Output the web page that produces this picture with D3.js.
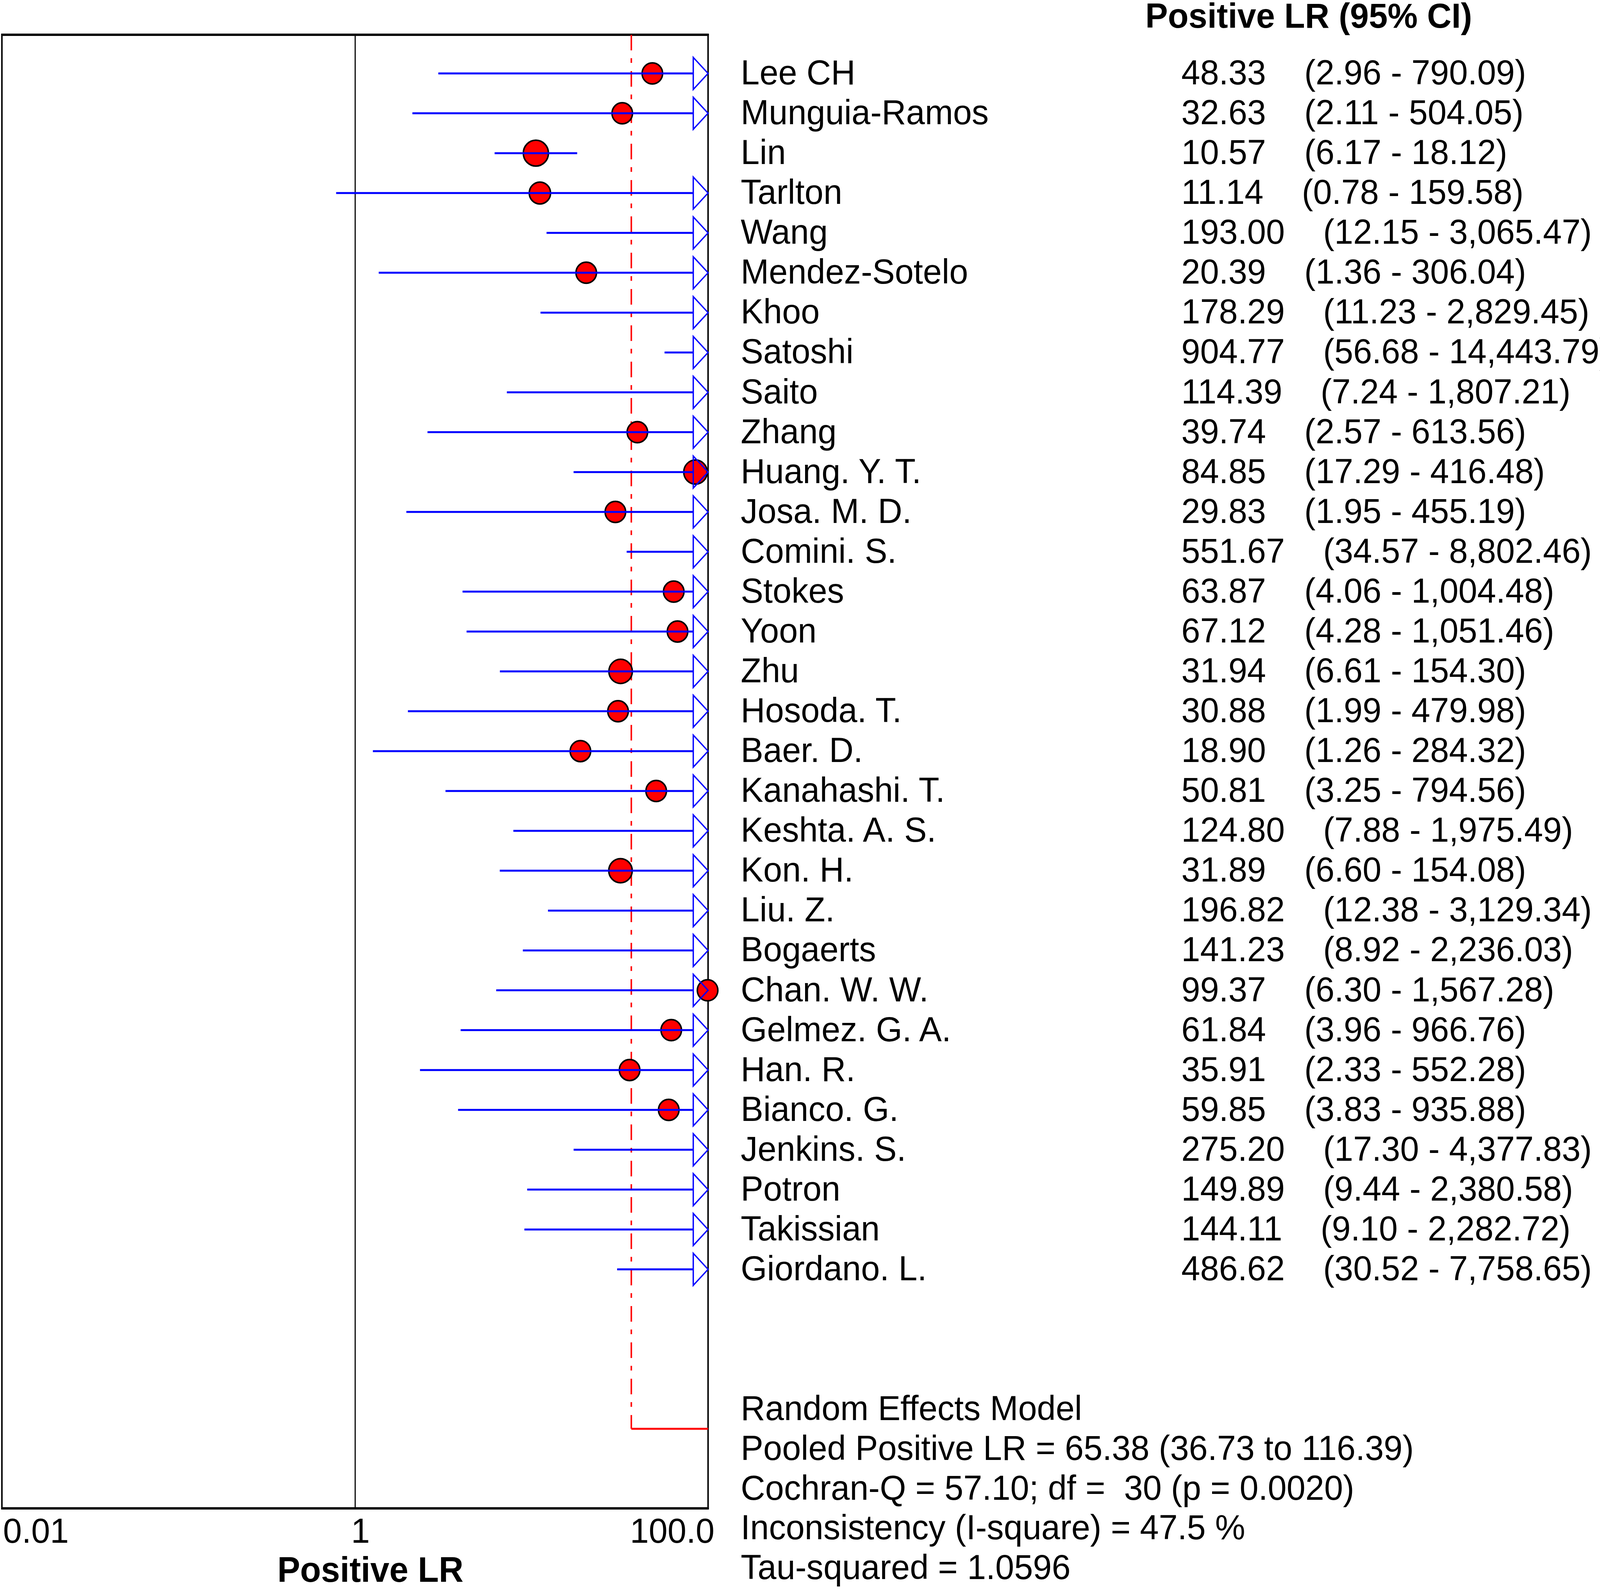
<!DOCTYPE html>
<html>
<head>
<meta charset="utf-8">
<script src="https://cdn.jsdelivr.net/npm/d3@7"></script>
<style>
	html, body { margin: 0; padding: 0; background: #fff; overflow: hidden; }
	svg { display: block; }
	text { font-family: "Liberation Sans", Arial, sans-serif; }
</style>
</head>
<body>
<div id="chart-area"></div>
<script>
// Estudos
var studies = ["Lee CH", "Munguia-Ramos", "Lin", "Tarlton", "Wang", "Mendez-Sotelo", "Khoo", "Satoshi",
	"Saito", "Zhang", "Huang. Y. T.", "Josa. M. D.", "Comini. S.", "Stokes", "Yoon", "Zhu", "Hosoda. T.",
	"Baer. D.", "Kanahashi. T.", "Keshta. A. S.", "Kon. H.", "Liu. Z.", "Bogaerts", "Chan. W. W.",
	"Gelmez. G. A.", "Han. R.", "Bianco. G.", "Jenkins. S.", "Potron", "Takissian", "Giordano. L."];
var estimates = [48.33, 32.63, 10.57, 11.14, 193.00, 20.39, 178.29, 904.77, 114.39, 39.74, 84.85, 29.83,
	551.67, 63.87, 67.12, 31.94, 30.88, 18.90, 50.81, 124.80, 31.89, 196.82, 141.23, 99.37, 61.84, 35.91,
	59.85, 275.20, 149.89, 144.11, 486.62];
var lowerCI = [2.96, 2.11, 6.17, 0.78, 12.15, 1.36, 11.23, 56.68, 7.24, 2.57, 17.29, 1.95, 34.57, 4.06,
	4.28, 6.61, 1.99, 1.26, 3.25, 7.88, 6.60, 12.38, 8.92, 6.30, 3.96, 2.33, 3.83, 17.30, 9.44, 9.10, 30.52];
var upperCI = [790.09, 504.05, 18.12, 159.58, 3065.47, 306.04, 2829.45, 14443.79, 1807.21, 613.56, 416.48,
	455.19, 8802.46, 1004.48, 1051.46, 154.30, 479.98, 284.32, 794.56, 1975.49, 154.08, 3129.34, 2236.03,
	1567.28, 966.76, 552.28, 935.88, 4377.83, 2380.58, 2282.72, 7758.65];
// peso relativo (tamanho do ponto)
var weights = [2.6, 2.6, 3.9, 2.8, 2.6, 2.6, 2.6, 2.6, 2.6, 2.6, 3.4, 2.6, 2.6, 2.6, 2.6, 3.4, 2.6,
	2.6, 2.6, 2.6, 3.4, 2.6, 2.6, 2.6, 2.6, 2.6, 2.6, 2.6, 2.6, 2.6, 2.6];

var axisTicks = [0.01, 1, 100];
var axisTickLabels = ["0.01", "1", "100.0"];

var pooled = [65.38, 36.73, 116.39];
var cochranQ = 57.10, df = 30, pValue = 0.0020, iSquare = 47.5, tauSquared = 1.0596;

var data = studies.map(function(s, i){
	return {name: s, est: estimates[i], lo: lowerCI[i], hi: upperCI[i], w: weights[i]};
});

var W = 4212, H = 4071;
var svg = d3.select("#chart-area")
			.append("svg")
			.attr("viewBox", "0 0 " + W + " " + H)
			.attr("preserveAspectRatio", "none")
			.style("width", "100vw")
			.style("height", "100vh");

var x = d3.scaleLog()
		.domain([0.01, 100])
		.range([6, 1864]);

var y = d3.scaleLinear()
		.domain([0, 30])
		.range([188, 3250]);

var r = d3.scaleSqrt()
		.domain([0, 2.6])
		.range([0, 27]);

var plotTop = 89, plotBottom = 3862;
var f2 = d3.format(".2f"), fc = d3.format(",.2f");

// caixa do grafico
svg.append("rect")
	.attr("x", x(0.01) - 1)
	.attr("y", plotTop)
	.attr("width", x(100) - x(0.01) + 1)
	.attr("height", plotBottom - plotTop)
	.attr("fill", "none")
	.attr("stroke", "black")
	.attr("stroke-width", 4);

svg.selectAll(".hline")
	.data([plotTop, plotBottom])
	.enter()
	.append("line")
	.attr("class", "hline")
	.attr("x1", x(0.01) - 3)
	.attr("x2", x(100) + 2)
	.attr("y1", function(d){ return d; })
	.attr("y2", function(d){ return d; })
	.attr("stroke", "black")
	.attr("stroke-width", 6);

// linha vertical em 1
svg.append("line")
	.attr("x1", x(1)).attr("x2", x(1))
	.attr("y1", plotTop).attr("y2", plotBottom)
	.attr("stroke", "black")
	.attr("stroke-width", 3);

// linha do pooled
var pooledRow = y(34);
svg.append("line")
	.attr("x1", x(pooled[1])).attr("x2", x(pooled[1]))
	.attr("y1", plotTop).attr("y2", pooledRow)
	.attr("stroke", "red")
	.attr("stroke-width", 4)
	.attr("stroke-dasharray", "40,20,12,21");

svg.append("line")
	.attr("x1", x(pooled[1]))
	.attr("x2", x(Math.min(pooled[2], 100)))
	.attr("y1", pooledRow).attr("y2", pooledRow)
	.attr("stroke", "red")
	.attr("stroke-width", 5);

var arrowBase = x(100) - 39;

// pontos
svg.selectAll("circle")
	.data(data.filter(function(d){ return d.est <= 100; }))
	.enter()
	.append("circle")
	.attr("cx", function(d){ return x(d.est); })
	.attr("cy", function(d){ return y(studies.indexOf(d.name)); })
	.attr("r", function(d){ return r(d.w); })
	.attr("fill", "red")
	.attr("stroke", "black")
	.attr("stroke-width", 4);

// intervalos
svg.selectAll(".ci")
	.data(data)
	.enter()
	.append("line")
	.attr("class", "ci")
	.attr("x1", function(d){ return x(Math.max(d.lo, 0.01)); })
	.attr("x2", function(d){ return d.hi > 100 ? arrowBase : x(d.hi); })
	.attr("y1", function(d, i){ return y(i); })
	.attr("y2", function(d, i){ return y(i); })
	.attr("stroke", "blue")
	.attr("stroke-width", 5);

svg.selectAll(".arrow")
	.data(data.filter(function(d){ return d.hi > 100; }))
	.enter()
	.append("path")
	.attr("class", "arrow")
	.attr("d", function(d){
		var yy = y(studies.indexOf(d.name));
		return "M" + arrowBase + "," + (yy - 41) + "L" + x(100) + "," + yy + "L" + arrowBase + "," + (yy + 41) + "Z";
	})
	.attr("fill", "none")
	.attr("stroke", "blue")
	.attr("stroke-width", 3.5);

// textos
svg.append("text")
	.attr("x", 3015)
	.attr("y", 71)
	.attr("font-size", 89)
	.attr("font-weight", "bold")
	.text("Positive LR (95% CI)");

svg.selectAll(".name")
	.data(data)
	.enter()
	.append("text")
	.attr("class", "name")
	.attr("x", 1950)
	.attr("y", function(d, i){ return y(i) + 28; })
	.attr("font-size", 89)
	.text(function(d){ return d.name; });

svg.selectAll(".est")
	.data(data)
	.enter()
	.append("text")
	.attr("class", "est")
	.attr("x", 3110)
	.attr("y", function(d, i){ return y(i) + 28; })
	.attr("font-size", 89)
	.text(function(d){ return f2(d.est); })
	.each(function(d){ d.estW = this.getComputedTextLength(); });

svg.selectAll(".ci-text")
	.data(data)
	.enter()
	.append("text")
	.attr("class", "ci-text")
	.attr("x", function(d){ return 3110 + d.estW + 101; })
	.attr("y", function(d, i){ return y(i) + 28; })
	.attr("font-size", 89)
	.text(function(d){ return "(" + fc(d.lo) + " - " + fc(d.hi) + ")"; });

var summary = [
	"Random Effects Model",
	"Pooled Positive LR = " + f2(pooled[0]) + " (" + f2(pooled[1]) + " to " + f2(pooled[2]) + ")",
	"Cochran-Q = " + f2(cochranQ) + "; df =  " + df + " (p = " + d3.format(".4f")(pValue) + ")",
	"Inconsistency (I-square) = " + d3.format(".1f")(iSquare) + " %",
	"Tau-squared = " + d3.format(".4f")(tauSquared)
];

svg.selectAll(".summary")
	.data(summary)
	.enter()
	.append("text")
	.attr("class", "summary")
	.attr("x", 1950)
	.attr("y", function(d, i){ return 3636 + i * 101.8; })
	.attr("font-size", 89)
	.style("white-space", "pre")
	.text(function(d){ return d; });

// eixo
svg.selectAll(".tick-label")
	.data(axisTicks)
	.enter()
	.append("text")
	.attr("class", "tick-label")
	.attr("x", function(d, i){
		if(i == 0){ return x(d) + 2; }
		else if(i == axisTicks.length - 1){ return x(d) + 17; }
		return x(d) + 14;
	})
	.attr("y", 3950)
	.attr("font-size", 89)
	.attr("text-anchor", function(d, i){
		if(i == 0){ return "start"; }
		else if(i == axisTicks.length - 1){ return "end"; }
		return "middle";
	})
	.text(function(d, i){ return axisTickLabels[i]; });

svg.append("text")
	.attr("x", 975)
	.attr("y", 4050)
	.attr("font-size", 90)
	.attr("font-weight", "bold")
	.attr("text-anchor", "middle")
	.text("Positive LR");
</script>
</body>
</html>
